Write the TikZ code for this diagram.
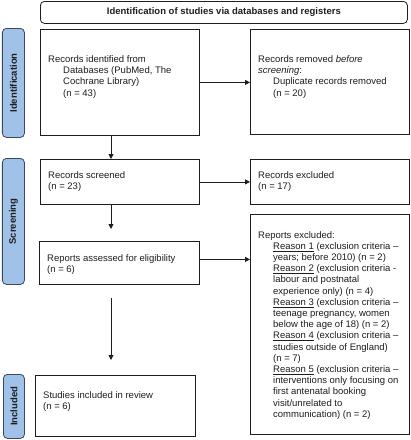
\documentclass[tikz,border=0pt]{standalone}
\usepackage{fontspec}
\setmainfont{Liberation Sans}
\usetikzlibrary{arrows.meta}
\definecolor{lblfill}{RGB}{160,193,232}
\definecolor{lbldraw}{RGB}{60,72,92}
\definecolor{ink}{RGB}{30,30,30}
\begin{document}
\begin{tikzpicture}[x=1pt,y=-1pt,
  box/.style={draw=ink, line width=0.8pt, fill=white, anchor=north west, inner sep=0pt},
  headbox/.style={draw=ink, line width=0.8pt, fill=white, rounded corners=4pt, anchor=north west, inner sep=0pt, font=\bfseries\fontsize{9.5}{11}\selectfont, text=ink},
  txt/.style={anchor=north west, inner sep=0pt, align=left, text=ink, font=\fontsize{9.5}{11.2}\selectfont},
  phase/.style={draw=lbldraw, fill=lblfill, line width=0.8pt, rounded corners=4pt, anchor=north west, inner sep=0pt},
  phasetxt/.style={rotate=90, inner sep=0pt, font=\bfseries\fontsize{9.5}{11}\selectfont, text=ink},
  arr/.style={draw=ink, line width=0.8pt, -{Triangle[length=5pt,width=5pt]}}]
\useasboundingbox (0,0) rectangle (411,440);

% header
\node[headbox, minimum width=367pt, minimum height=22pt] (hd) at (40,1) {Identification of studies via databases and registers};

% phase labels
\node[phase, minimum width=22pt, minimum height=109pt] (pid) at (2,28) {};
\node[phasetxt] (pidt) at (pid.center) {Identification};
\node[phase, minimum width=22pt, minimum height=126pt] (psc) at (2,158) {};
\node[phasetxt] (psct) at (psc.center) {Screening};
\node[phase, minimum width=21pt, minimum height=64pt] (pin) at (3,374) {};
\node[phasetxt] (pint) at (pin.center) {Included};

% boxes
\node[box, minimum width=159pt, minimum height=106pt] (b1) at (40,29) {};
\node[box, minimum width=159pt, minimum height=105pt] (b2) at (250,29) {};
\node[box, minimum width=159pt, minimum height=45pt] (b3) at (40,159) {};
\node[box, minimum width=159pt, minimum height=45pt] (b4) at (250,159) {};
\node[box, minimum width=160pt, minimum height=43pt] (b5) at (39,241) {};
\node[box, minimum width=159pt, minimum height=220pt] (b6) at (250,214) {};
\node[box, minimum width=160pt, minimum height=61pt] (b7) at (35,375) {};

% texts
\node[txt] (t1) at (48,55.5) {Records identified from\\\hspace*{15pt}Databases (PubMed, The\\\hspace*{15pt}Cochrane Library)\\\hspace*{15pt}(n = 43)};
\node[txt] (t2) at (258,55.5) {Records removed \emph{before}\\\emph{screening}:\\\hspace*{15pt}Duplicate records removed\\\hspace*{15pt}(n = 20)};
\node[txt] (t3) at (48,171.5) {Records screened\\(n = 23)};
\node[txt] (t4) at (258,171.5) {Records excluded\\(n = 17)};
\node[txt] (t5) at (47,254) {Reports assessed for eligibility\\(n = 6)};
\node[txt] (t6) at (258,231) {Reports excluded:\\
\hspace*{15pt}\underline{Reason 1} (exclusion criteria –\\
\hspace*{15pt}years; before 2010) (n = 2)\\
\hspace*{15pt}\underline{Reason 2} (exclusion criteria -\\
\hspace*{15pt}labour and postnatal\\
\hspace*{15pt}experience only) (n = 4)\\
\hspace*{15pt}\underline{Reason 3} (exclusion criteria –\\
\hspace*{15pt}teenage pregnancy, women\\
\hspace*{15pt}below the age of 18) (n = 2)\\
\hspace*{15pt}\underline{Reason 4} (exclusion criteria –\\
\hspace*{15pt}studies outside of England)\\
\hspace*{15pt}(n = 7)\\
\hspace*{15pt}\underline{Reason 5} (exclusion criteria –\\
\hspace*{15pt}interventions only focusing on\\
\hspace*{15pt}first antenatal booking\\
\hspace*{15pt}visit/unrelated to\\
\hspace*{15pt}communication) (n = 2)};
\node[txt] (t7) at (43,391) {Studies included in review\\(n = 6)};

% connectors
\coordinate (ax) at (111,0);
\draw[arr] (b1.south -| ax) -- (b3.north -| ax);
\draw[arr, shorten >=12pt] (b3.south -| ax) -- (b5.north -| ax);
\draw[arr, shorten <=13pt, shorten >=15pt] (b5.south -| ax) -- (b7.north -| ax);
\draw[arr] (b1.east) -- (b1.east -| b2.west);
\draw[arr] (b3.east) -- (b3.east -| b4.west);
\draw[arr] ([yshift=3.5pt]b5.east) -- ([yshift=3.5pt]b5.east -| b6.west);
\end{tikzpicture}
\end{document}
